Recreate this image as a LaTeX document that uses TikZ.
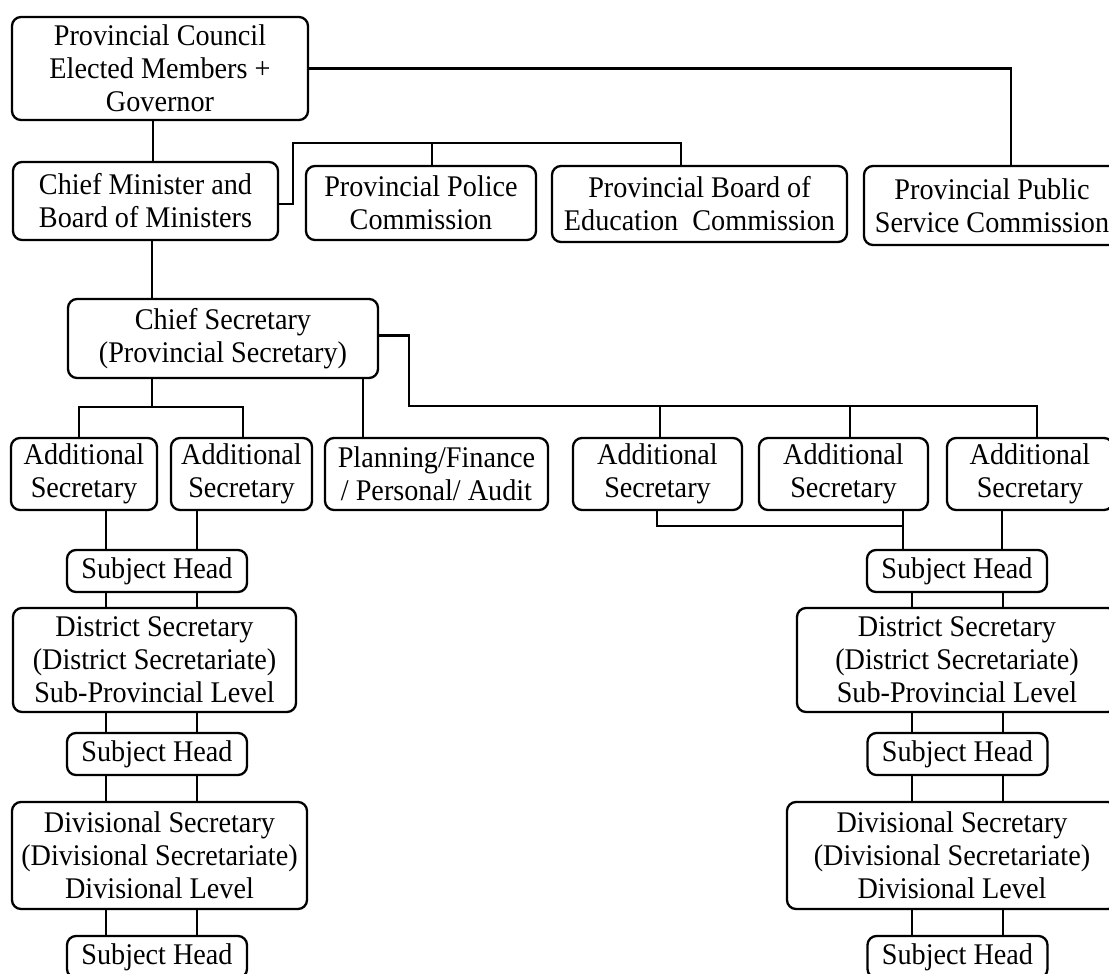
\documentclass[tikz,border=0pt]{standalone}
\usepackage{fontspec}
\setmainfont{Liberation Serif}[FakeStretch=0.94]
\begin{document}
\begin{tikzpicture}[x=1pt,y=-1pt,
  box/.style={draw, line width=2.3pt, rounded corners=9pt, align=center,
    inner sep=0pt, font=\fontsize{30}{33}\selectfont},
  link/.style={line width=2.3pt}]
\useasboundingbox (0,0) rectangle (1109,974);
\clip (0,0) rectangle (1109,974);
\fill[white] (0,0) rectangle (1109,974);

% top level
\node[box, minimum width=296pt, minimum height=103pt] (pc) at (160,68.5)
  {Provincial Council\\Elected Members +\\Governor};
\node[box, minimum width=265pt, minimum height=78pt] (cm) at (145.5,201)
  {Chief Minister and\\Board of Ministers};
\node[box, minimum width=230pt, minimum height=74pt] (ppc) at (421,203)
  {Provincial Police\\Commission};
\node[box, minimum width=295pt, minimum height=76pt] (pbec) at (699.5,204)
  {Provincial Board of\\Education\ \ Commission};
\node[box, minimum width=256pt, minimum height=79pt] (ppsc) at (992,205.5)
  {Provincial Public\\Service Commission};

% secretariat
\node[box, minimum width=310pt, minimum height=79pt] (cs) at (223,338.5)
  {Chief Secretary\\(Provincial Secretary)};
\node[box, minimum width=146pt, minimum height=72pt] (as1) at (84,474)
  {Additional\\Secretary};
\node[box, minimum width=141pt, minimum height=72pt] (as2) at (241.5,474)
  {Additional\\Secretary};
\node[box, minimum width=223pt, minimum height=72pt] (plan) at (436.5,474)
  {Planning/Finance\\/ Personal/ Audit};
\node[box, minimum width=169pt, minimum height=72pt] (as3) at (657.5,474)
  {Additional\\Secretary};
\node[box, minimum width=169pt, minimum height=72pt] (as4) at (843.5,474)
  {Additional\\Secretary};
\node[box, minimum width=166pt, minimum height=72pt] (as5) at (1030,474)
  {Additional\\Secretary};

% left column
\node[box, minimum width=180pt, minimum height=42pt] (shA) at (157,571) {Subject Head};
\node[box, minimum width=283pt, minimum height=104pt] (dsA) at (154.5,660)
  {District Secretary\\(District Secretariate)\\Sub-Provincial Level};
\node[box, minimum width=180pt, minimum height=42pt] (shB) at (157,754) {Subject Head};
\node[box, minimum width=295pt, minimum height=107pt] (dvA) at (159.5,855.5)
  {Divisional Secretary\\(Divisional Secretariate)\\Divisional Level};
\node[box, minimum width=180pt, minimum height=42pt] (shC) at (157,957) {Subject Head};

% right column
\node[box, minimum width=180pt, minimum height=42pt] (shD) at (957,571) {Subject Head};
\node[box, minimum width=320pt, minimum height=104pt] (dsB) at (957,660)
  {District Secretary\\(District Secretariate)\\Sub-Provincial Level};
\node[box, minimum width=180pt, minimum height=42pt] (shE) at (957.5,754) {Subject Head};
\node[box, minimum width=330pt, minimum height=107pt] (dvB) at (952,855.5)
  {Divisional Secretary\\(Divisional Secretariate)\\Divisional Level};
\node[box, minimum width=180pt, minimum height=42pt] (shF) at (957.5,957) {Subject Head};

% routing points of the connectors
\coordinate (xPs) at (1011,0);
\coordinate (xTop) at (153,0);
\coordinate (bend) at (293,143);
\coordinate (xPp) at (432,0);
\coordinate (xPb) at (681,0);
\coordinate (xCs) at (152,0);
\coordinate (fork) at (152,407);
\coordinate (xPl) at (363,0);
\coordinate (rbend) at (409,406);
\coordinate (xA3) at (660,0);
\coordinate (xA4) at (850,0);
\coordinate (xA5) at (1037,0);
\coordinate (xL1) at (106,0);
\coordinate (xL2) at (197,0);
\coordinate (xR3) at (657,526);
\coordinate (xR4) at (903,0);
\coordinate (xR5) at (1002,0);
\coordinate (xR1) at (912,0);
\coordinate (xR2) at (1003,0);

% provincial council links
\draw[link] (pc.east) -| (ppsc.north -| xPs);
\draw[link] (pc.south -| xTop) -- (cm.north -| xTop);
\draw[link] ([yshift=-3pt]cm.east) -| (bend) -| (pbec.north -| xPb);
\draw[link] (xPp |- bend) -- (ppc.north -| xPp);

% chief secretary links
\draw[link] (cm.south -| xCs) -- (cs.north -| xCs);
\draw[link] (cs.south -| xCs) -- (fork);
\draw[link] (as1.north -| 79,0) |- (fork) -| (as2.north -| 243,0);
\draw[link] (cs.south -| xPl) -- (plan.north -| xPl);
\draw[link] ([yshift=3pt]cs.east) -| (rbend) -| (as5.north -| xA5);
\draw[link] (xA3 |- rbend) -- (as3.north -| xA3);
\draw[link] (xA4 |- rbend) -- (as4.north -| xA4);

% left chain
\draw[link] (as1.south -| xL1) -- (shA.north -| xL1);
\draw[link] (as2.south -| xL2) -- (shA.north -| xL2);
\foreach \u/\l in {shA/dsA, dsA/shB, shB/dvA, dvA/shC} {
  \draw[link] (\u.south -| xL1) -- (\l.north -| xL1);
  \draw[link] (\u.south -| xL2) -- (\l.north -| xL2);
}

% right chain
\draw[link] (as3.south -| xR3) -- (xR3) -| (xR4 |- as4.south);
\draw[link] (as4.south -| xR4) -- (shD.north -| xR4);
\draw[link] (as5.south -| xR5) -- (shD.north -| xR5);
\foreach \u/\l in {shD/dsB, dsB/shE, shE/dvB, dvB/shF} {
  \draw[link] (\u.south -| xR1) -- (\l.north -| xR1);
  \draw[link] (\u.south -| xR2) -- (\l.north -| xR2);
}
\end{tikzpicture}
\end{document}
